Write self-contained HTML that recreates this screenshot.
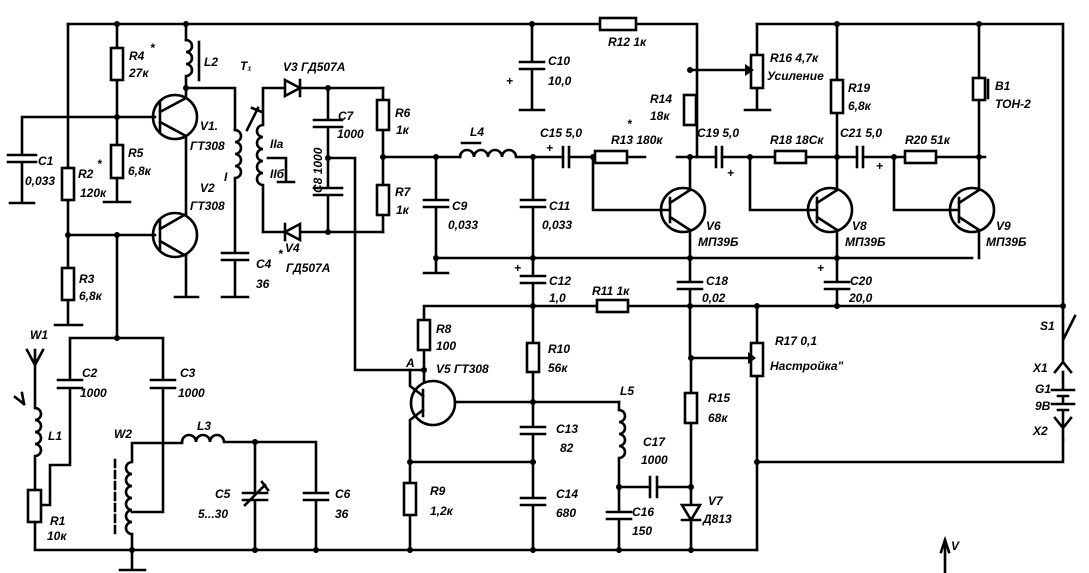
<!DOCTYPE html>
<html><head><meta charset="utf-8"><style>
html,body{margin:0;padding:0;background:#fff;}
svg{display:block}
text{font-family:"Liberation Sans","DejaVu Sans",sans-serif;font-weight:bold;font-style:italic;font-size:12px;fill:#000}
</style></head><body>
<svg width="1089" height="573" viewBox="0 0 1089 573" xmlns="http://www.w3.org/2000/svg">
<g stroke="#000" stroke-width="2.6" fill="none" stroke-linecap="square">
<!-- top rail -->
<path d="M68 24 H600 M636 24 H697 V157"/>
<rect x="600" y="18" width="36" height="12" fill="#fff"/>
<path d="M757 24 H1063 V306"/>
<!-- left part -->
<path d="M68 24 V168 M68 200 V268 M68 300 V325 M55 325 H82"/>
<rect x="62" y="168" width="12" height="32" fill="#fff"/>
<rect x="62" y="268" width="12" height="32" fill="#fff"/>
<path d="M117 24 V48 M117 80 V145 M117 178 V202 M104 202 H130"/>
<rect x="111" y="48" width="12" height="32" fill="#fff"/>
<rect x="111" y="145" width="12" height="33" fill="#fff"/>
<path d="M22 117 H155 M22 117 V155 M22 162 V203 M10 203 H34 M8 155 H36 M8 162 H36"/>
<path d="M68 235 H155 M117 235 V338"/>
<!-- V1 V2 -->
<circle cx="175" cy="117" r="22"/>
<circle cx="175" cy="235" r="22"/>
<path d="M160 103 V131 M160 112 L186 98 M160 122 L186 136 M186 98 V88 M186 136 V213 M160 221 V249 M160 229 L186 214 M160 241 L186 256 M186 256 V297 M175 297 H198"/>
<path d="M186 24 V40"/>
<path d="M186 40 a6 6 0 0 1 0 12 a6 6 0 0 1 0 12 a6 6 0 0 1 0 12 V88 H235 V130"/>
<path d="M199 42 V80"/>
<!-- T1 coil I -->
<path d="M235 130 a6 6 0 0 1 0 12 a6 6 0 0 1 0 12 a6 6 0 0 1 0 12 a6 6 0 0 1 0 12 V253 M222 253 H248 M222 260 H248 M235 260 V297 M222 297 H248"/>
<path d="M263 90 V125 M263 125 a6 6 0 0 0 0 12 a6 6 0 0 0 0 12 a6 6 0 0 0 0 12 a6 6 0 0 0 0 12 a6 6 0 0 0 0 12 V232"/>
<path d="M268 158 H286 V182 M278 182 H294"/>
<path d="M247 130 L258 108 M252 108 L262 112"/>
<!-- diode bridge -->
<path d="M263 88 H383 M263 232 H383 M328 88 V120 M328 127 V188 M328 195 V232 M314 120 H342 M314 127 H342 M314 188 H342 M314 195 H342 M328 158 H355 V370 H424"/>
<path d="M285 80 V96 L300 88 Z" fill="#fff"/>
<path d="M300 80 V96"/>
<path d="M300 224 V240 L285 232 Z" fill="#fff"/>
<path d="M285 224 V240"/>
<path d="M383 88 V100 M383 130 V185 M383 215 V232 M383 157 H460"/>
<rect x="377" y="100" width="12" height="30" fill="#fff"/>
<rect x="377" y="185" width="12" height="30" fill="#fff"/>
<!-- L4 -->
<path d="M460 157 a7 7 0 0 1 14 0 a7 7 0 0 1 14 0 a7 7 0 0 1 14 0 a7 7 0 0 1 14 0 H563 M569 157 H645 M677 157 H716 M722 157 H775 M806 157 H857 M863 157 H905 M936 157 H985"/>
<path d="M462 143 H480"/>
<rect x="545" y="151" width="32" height="12" fill="#fff" transform="translate(50,0)"/>
<path d="M563 147 V167 M569 147 V167 M716 147 V167 M722 147 V167 M857 147 V167 M863 147 V167"/>
<rect x="775" y="151" width="31" height="12" fill="#fff"/>
<rect x="905" y="151" width="31" height="12" fill="#fff"/>
<path d="M436 157 V200 M436 207 V273 M424 273 H448 M424 200 H448 M424 207 H448 M436 258 H972"/>
<path d="M532 24 V62 M532 69 V110 M520 110 H544 M520 62 H544 M520 69 H544"/>
<path d="M533 157 V200 M533 207 V276 M521 200 H545 M521 207 H545 M521 276 H545 M521 283 H545 M533 283 V343 M533 372 V427 M533 434 V498 M533 505 V550 M521 427 H545 M521 434 H545 M521 498 H545 M521 505 H545"/>
<rect x="527" y="343" width="12" height="29" fill="#fff"/>
<!-- V6 V8 V9 -->
<path d="M593 157 V210 H668 M750 157 V210 H815 M894 157 V210 H958"/>
<circle cx="683" cy="210" r="22"/>
<circle cx="830" cy="210" r="22"/>
<circle cx="972" cy="210" r="22"/>
<path d="M670 198 V222 M670 203 L690 190 M670 217 L690 230 M690 190 V157 M690 230 V282 M690 289 V358 M678 282 H702 M678 289 H702"/>
<path d="M817 198 V222 M817 203 L837 190 M817 217 L837 230 M837 190 V24 M837 230 V282 M837 289 V306 M825 282 H849 M825 289 H849"/>
<path d="M959 198 V222 M959 203 L979 190 M959 217 L979 230 M979 190 V157 M979 230 V258 M979 157 V100 M979 78 V24"/>
<rect x="973" y="78" width="12" height="22" fill="#fff"/>
<path d="M988 80 V98"/>
<rect x="684" y="95" width="12" height="30" fill="#fff"/>
<rect x="831" y="80" width="12" height="33" fill="#fff"/>
<path d="M690 70 H745 M757 24 V55 M757 88 V110 M745 110 H770"/>
<rect x="751" y="55" width="12" height="33" fill="#fff"/>
<!-- rail y=306 -->
<path d="M424 306 H597 M628 306 H1063 M424 306 V320 M424 350 V381"/>
<rect x="597" y="300" width="31" height="12" fill="#fff"/>
<rect x="418" y="320" width="12" height="30" fill="#fff"/>
<circle cx="433" cy="403" r="22"/>
<path d="M423 390 V416 M455 402 H619 M423 396 L410 386 V370 M423 410 L410 420 V462 H533 M410 462 V483 M410 515 V550"/>
<rect x="404" y="483" width="12" height="32" fill="#fff"/>
<path d="M619 402 V410 M619 410 a6 6 0 0 1 0 12 a6 6 0 0 1 0 12 a6 6 0 0 1 0 12 a6 6 0 0 1 0 12 V487 H650 M657 487 H691 M650 477 V497 M657 477 V497 M619 487 V512 M607 512 H631 M607 519 H631 M619 519 V550"/>
<path d="M691 358 V393 M691 423 V505 M691 358 H748 M691 522 V550"/>
<rect x="685" y="393" width="12" height="30" fill="#fff"/>
<path d="M682 505 H700 L691 520 Z" fill="#fff"/>
<path d="M682 520 H700"/>
<path d="M757 306 V343 M757 376 V550 M757 462 H1063 V440"/>
<rect x="751" y="343" width="12" height="33" fill="#fff"/>
<!-- S1, battery -->
<path d="M1063 306 V340 L1075 316 M1063 340 V362 M1055 372 L1063 362 L1071 372 M1063 372 V390 M1052 390 H1074 M1058 396 H1068 M1063 396 V404 M1052 404 H1074 M1058 410 H1068 M1063 410 V425 M1055 418 L1063 428 L1071 418 M1063 428 V440"/>
<!-- antenna input -->
<path d="M70 338 H163 M117 338 V338 M70 338 V380 M58 380 H82 M58 388 H82 M70 388 V465 H50 V505 H40 M163 338 V380 M151 380 H175 M151 388 H175 M163 388 V512 H132"/>
<path d="M35 350 V408 M27 350 L35 365 L43 350 M35 408 a6 6 0 0 1 0 12 a6 6 0 0 1 0 12 a6 6 0 0 1 0 12 a6 6 0 0 1 0 12 V490 M35 522 V550 H757"/>
<rect x="28" y="490" width="13" height="32" fill="#fff"/>
<path d="M15 397 L24 404 M22 393 L24 404"/>
<path d="M132 443 H182 M132 443 V462 M132 462 a6 6 0 0 0 0 12 a6 6 0 0 0 0 12 a6 6 0 0 0 0 12 a6 6 0 0 0 0 12 a6 6 0 0 0 0 12 a6 6 0 0 0 0 12 V570 M120 570 H145"/>
<path d="M115 460 V535" stroke-dasharray="7 4"/>
<path d="M182 442 a7 7 0 0 1 14 0 a7 7 0 0 1 14 0 a7 7 0 0 1 14 0 H316 V493 M316 500 V550 M304 493 H328 M304 500 H328 M255 442 V493 M255 500 V550 M243 493 H267 M243 500 H267 M245 505 L265 485 M262 482 L268 490"/>
<path d="M945 540 V573 M941 552 L945 540 L949 552"/>
</g>
<g fill="#000">
<circle cx="117" cy="24" r="3"/><circle cx="186" cy="24" r="3"/><circle cx="117" cy="117" r="3"/><circle cx="186" cy="88" r="3"/>
<circle cx="68" cy="235" r="3"/><circle cx="117" cy="235" r="3"/><circle cx="117" cy="338" r="3"/>
<circle cx="328" cy="88" r="3"/><circle cx="328" cy="232" r="3"/><circle cx="328" cy="158" r="3"/><circle cx="383" cy="157" r="3"/>
<circle cx="532" cy="24" r="3"/><circle cx="436" cy="157" r="3"/><circle cx="533" cy="157" r="3"/><circle cx="593" cy="157" r="3"/><circle cx="690" cy="157" r="3"/><circle cx="750" cy="157" r="3"/><circle cx="837" cy="157" r="3"/><circle cx="894" cy="157" r="3"/><circle cx="979" cy="157" r="3"/>
<circle cx="690" cy="70" r="3"/><circle cx="837" cy="24" r="3"/><circle cx="979" cy="24" r="3"/>
<circle cx="436" cy="258" r="3"/><circle cx="533" cy="258" r="3"/><circle cx="690" cy="258" r="3"/><circle cx="837" cy="258" r="3"/>
<circle cx="533" cy="306" r="3"/><circle cx="690" cy="306" r="3"/><circle cx="757" cy="306" r="3"/><circle cx="837" cy="306" r="3"/><circle cx="1063" cy="306" r="3"/>
<circle cx="424" cy="370" r="3"/><circle cx="533" cy="402" r="3"/><circle cx="410" cy="462" r="3"/><circle cx="533" cy="462" r="3"/>
<circle cx="619" cy="487" r="3"/><circle cx="691" cy="487" r="3"/><circle cx="691" cy="358" r="3"/><circle cx="757" cy="462" r="3"/>
<circle cx="132" cy="550" r="3"/><circle cx="255" cy="442" r="3"/><circle cx="255" cy="550" r="3"/><circle cx="316" cy="550" r="3"/><circle cx="410" cy="550" r="3"/><circle cx="533" cy="550" r="3"/><circle cx="619" cy="550" r="3"/><circle cx="691" cy="550" r="3"/>
<path d="M748 352 L748 364 L756 358 Z"/><path d="M745 64 L745 76 L754 70 Z"/>
</g>
<text x="129" y="60">R4</text><text x="150" y="52">*</text><text x="129" y="77">27к</text>
<text x="204" y="66">L2</text><text x="240" y="70">T₁</text>
<text x="283" y="71">V3 ГД507А</text>
<text x="200" y="130">V1.</text><text x="190" y="150">ГТ308</text><text x="224" y="181">I</text>
<text x="200" y="192">V2</text><text x="190" y="210">ГТ308</text>
<text x="38" y="165">C1</text><text x="25" y="185">0,033</text>
<text x="78" y="178">R2</text><text x="97" y="168">*</text><text x="80" y="197">120к</text>
<text x="128" y="157">R5</text><text x="128" y="175">6,8к</text>
<text x="79" y="283">R3</text><text x="79" y="300">6,8к</text>
<text x="270" y="148">IIа</text><text x="270" y="178">IIб</text>
<text x="338" y="120">C7</text><text x="337" y="138">1000</text>
<text x="0" y="0" transform="translate(322,193) rotate(-90)">C8 1000</text>
<text x="256" y="268">C4</text><text x="256" y="288">36</text>
<text x="285" y="252">V4</text><text x="286" y="272">ГД507А</text><text x="278" y="258">*</text>
<text x="395" y="117">R6</text><text x="396" y="134">1к</text>
<text x="395" y="196">R7</text><text x="396" y="214">1к</text>
<text x="470" y="136">L4</text>
<text x="548" y="65">C10</text><text x="506" y="85">+</text><text x="548" y="85">10,0</text>
<text x="608" y="46">R12 1к</text>
<text x="452" y="210">C9</text><text x="448" y="229">0,033</text>
<text x="549" y="210">C11</text><text x="542" y="229">0,033</text>
<text x="540" y="137">C15 5,0</text><text x="546" y="152">+</text>
<text x="611" y="144">R13 180к</text><text x="627" y="128">*</text>
<text x="650" y="103">R14</text><text x="650" y="120">18к</text>
<text x="697" y="137">C19 5,0</text><text x="727" y="177">+</text>
<text x="770" y="62">R16 4,7к</text><text x="767" y="80">Усиление</text>
<text x="848" y="92">R19</text><text x="848" y="110">6,8к</text>
<text x="770" y="144">R18 18Ск</text><text x="840" y="137">C21 5,0</text><text x="876" y="170">+</text>
<text x="905" y="144">R20 51к</text>
<text x="995" y="90">B1</text><text x="995" y="108">ТОН-2</text>
<text x="706" y="230">V6</text><text x="698" y="246">МП39Б</text>
<text x="852" y="230">V8</text><text x="845" y="246">МП39Б</text>
<text x="996" y="230">V9</text><text x="986" y="246">МП39Б</text>
<text x="514" y="272">+</text><text x="549" y="285">C12</text><text x="549" y="302">1,0</text>
<text x="592" y="295">R11 1к</text>
<text x="706" y="285">C18</text><text x="702" y="302">0,02</text>
<text x="817" y="272">+</text><text x="850" y="285">C20</text><text x="849" y="302">20,0</text>
<text x="436" y="333">R8</text><text x="436" y="350">100</text>
<text x="406" y="367">A</text><text x="436" y="373">V5 ГТ308</text>
<text x="548" y="353">R10</text><text x="548" y="372">56к</text>
<text x="620" y="395">L5</text>
<text x="556" y="433">C13</text><text x="560" y="452">82</text>
<text x="556" y="498">C14</text><text x="556" y="517">680</text>
<text x="430" y="495">R9</text><text x="430" y="515">1,2к</text>
<text x="643" y="446">C17</text><text x="641" y="464">1000</text>
<text x="632" y="516">C16</text><text x="632" y="535">150</text>
<text x="708" y="505">V7</text><text x="703" y="523">Д813</text>
<text x="708" y="402">R15</text><text x="708" y="422">68к</text>
<text x="775" y="345">R17 0,1</text><text x="770" y="370">Настройка"</text>
<text x="1040" y="330">S1</text><text x="1033" y="372">X1</text><text x="1035" y="393">G1</text><text x="1035" y="410">9В</text><text x="1033" y="435">X2</text>
<text x="951" y="550">V</text>
<text x="30" y="339">W1</text>
<text x="82" y="377">C2</text><text x="80" y="397">1000</text>
<text x="180" y="377">C3</text><text x="178" y="397">1000</text>
<text x="48" y="440">L1</text><text x="50" y="525">R1</text><text x="47" y="540">10к</text>
<text x="114" y="438">W2</text><text x="197" y="430">L3</text>
<text x="215" y="498">C5</text><text x="198" y="518">5...30</text>
<text x="335" y="498">C6</text><text x="335" y="518">36</text>
</svg>
</body></html>
